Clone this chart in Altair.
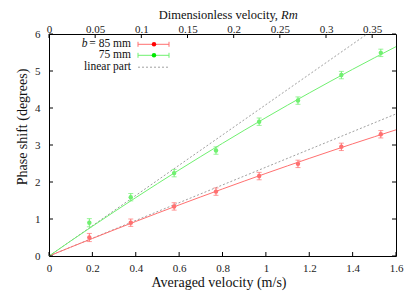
import altair as alt
import pandas as pd

# ---- data ----
velocity = [0.186, 0.377, 0.577, 0.770, 0.969, 1.148, 1.348, 1.530]
shift_85 = [0.50, 0.90, 1.34, 1.74, 2.16, 2.49, 2.95, 3.29]
err_85 = [0.11, 0.10, 0.10, 0.10, 0.10, 0.10, 0.10, 0.10]
shift_75 = [0.90, 1.59, 2.24, 2.85, 3.63, 4.20, 4.89, 5.49]
err_75 = [0.11, 0.10, 0.10, 0.10, 0.10, 0.10, 0.10, 0.10]

curve_v = [0.0, 0.1, 0.2, 0.3, 0.4, 0.5, 0.6, 0.7, 0.8, 0.9, 1.0, 1.1, 1.2, 1.3, 1.4, 1.5, 1.6]
curve_85 = [0.0, 0.238, 0.473, 0.705, 0.933, 1.158, 1.380, 1.598, 1.812, 2.024,
            2.232, 2.437, 2.638, 2.836, 3.031, 3.222, 3.410]
curve_75 = [0.0, 0.405, 0.802, 1.193, 1.578, 1.955, 2.326, 2.689, 3.046, 3.397,
            3.740, 4.077, 4.406, 4.729, 5.046, 5.355, 5.658]

lin_85_v = [0.0, 1.6]
lin_85 = [0.0, 3.84]
lin_75_v = [0.0, 1.467]
lin_75 = [0.0, 6.0]

x_ticks = [0, 0.2, 0.4, 0.6, 0.8, 1.0, 1.2, 1.4, 1.6]
y_ticks = [0, 1, 2, 3, 4, 5, 6]
rm_ticks = [0, 0.05, 0.1, 0.15, 0.2, 0.25, 0.3, 0.35]
RM_MAX = 0.3758

# ---- styling ----
W, H = 347, 222
FONT = "Liberation Serif"
LSIZE = 11
RED, RED_L = "#ff0000", "#ff7070"
GRN, GRN_L = "#00e800", "#70f070"
GRAY = "#a0a0a0"

xs = alt.Scale(domain=[0, 1.6], nice=False, zero=False)
ys = alt.Scale(domain=[0, 6], nice=False, zero=False)
xax = alt.Axis(values=x_ticks, format="~g", ticks=False, tickSize=0, domain=False, grid=False,
               labelFont=FONT, labelFontSize=LSIZE, labelColor="#222", labelPadding=6,
               labelFlush=False, labelOverlap=False, title=None)
yax = alt.Axis(values=y_ticks, format="~g", ticks=False, tickSize=0, domain=False, grid=False,
               labelFont=FONT, labelFontSize=LSIZE, labelColor="#222", labelPadding=9,
               labelFlush=False, labelOverlap=False, title=None)

pts = pd.DataFrame({
    "v": velocity * 2,
    "s": shift_85 + shift_75,
    "lo": [a - b for a, b in zip(shift_85, err_85)] + [a - b for a, b in zip(shift_75, err_75)],
    "hi": [a + b for a, b in zip(shift_85, err_85)] + [a + b for a, b in zip(shift_75, err_75)],
    "series": ["85"] * len(velocity) + ["75"] * len(velocity),
})
curves = pd.DataFrame({
    "v": curve_v * 2,
    "s": curve_85 + curve_75,
    "series": ["85"] * len(curve_v) + ["75"] * len(curve_v),
})
lins = pd.DataFrame({
    "v": lin_85_v + lin_75_v,
    "s": lin_85 + lin_75,
    "series": ["85"] * 2 + ["75"] * 2,
})

cscale_pt = alt.Scale(domain=["85", "75"], range=[RED, GRN])
cscale_ln = alt.Scale(domain=["85", "75"], range=[RED_L, GRN_L])

X = lambda f="v": alt.X(f + ":Q", scale=xs, axis=xax)
Y = lambda f="s": alt.Y(f + ":Q", scale=ys, axis=yax)

lin_layer = alt.Chart(lins).mark_line(color=GRAY, strokeWidth=1, strokeDash=[2, 2], clip=True).encode(
    x=X(), y=Y(), detail="series:N")
curve_layer = alt.Chart(curves).mark_line(strokeWidth=1, clip=True).encode(
    x=X(), y=Y(), color=alt.Color("series:N", scale=cscale_ln, legend=None))
err_layer = alt.Chart(pts).mark_rule(strokeWidth=1).encode(
    x=X(), y=Y("lo"), y2="hi:Q", color=alt.Color("series:N", scale=cscale_ln, legend=None))
cap_lo = alt.Chart(pts).mark_tick(orient="horizontal", size=5, thickness=1).encode(
    x=X(), y=Y("lo"), color=alt.Color("series:N", scale=cscale_ln, legend=None))
cap_hi = alt.Chart(pts).mark_tick(orient="horizontal", size=5, thickness=1).encode(
    x=X(), y=Y("hi"), color=alt.Color("series:N", scale=cscale_ln, legend=None))
pt_layer = alt.Chart(pts).mark_point(filled=True, shape="circle", size=20, opacity=1).encode(
    x=X(), y=Y(), color=alt.Color("series:N", scale=cscale_pt, legend=None))

# inward ticks
xt = pd.DataFrame({"v": x_ticks})
yt = pd.DataFrame({"s": y_ticks})
bottom_ticks = alt.Chart(xt).mark_rule(color="black", strokeWidth=1).encode(
    x=X(), y=alt.value(H), y2=alt.value(H - 4))
left_ticks = alt.Chart(yt).mark_rule(color="black", strokeWidth=1).encode(
    y=Y(), x=alt.value(0), x2=alt.value(4))
right_ticks = alt.Chart(yt).mark_rule(color="black", strokeWidth=1).encode(
    y=Y(), x=alt.value(W), x2=alt.value(W - 4))

# titles as text
def txt(s, x, y, size=14, align="center", baseline="alphabetic", angle=0, style="normal"):
    kw = dict(font=FONT, fontSize=size, align=align, baseline=baseline, color="#111", fontStyle=style)
    if angle:
        kw["angle"] = angle
    return alt.Chart(pd.DataFrame({"t": [s]})).mark_text(**kw).encode(
        text="t:N", x=alt.value(x), y=alt.value(y))

titles = [
    txt("Averaged velocity (m/s)", 170, 253),
    txt("Phase shift (degrees)", -26, 93, baseline="middle", angle=270),
    txt("Dimensionless velocity,", 229, -14.7, size=12.5, align="right"),
    txt("Rm", 232, -14.7, size=12.5, align="left", style="italic"),
]

# legend (gnuplot style, inside top-left)
rows_y = [10.3, 21.3, 33.2]
legend = [
    txt("b", 38.5, rows_y[0], size=11.5, align="right", baseline="middle", style="italic"),
    txt("= 85 mm", 82, rows_y[0], size=11.5, align="right", baseline="middle"),
    txt("75 mm", 82, rows_y[1], size=11.5, align="right", baseline="middle"),
    txt("linear part", 82, rows_y[2], size=11.5, align="right", baseline="middle"),
]
one = pd.DataFrame({"a": [0]})
for yy, lc, pc in [(rows_y[0], RED_L, RED), (rows_y[1], GRN_L, GRN)]:
    legend.append(alt.Chart(one).mark_rule(color=lc, strokeWidth=1).encode(
        x=alt.value(89), x2=alt.value(120), y=alt.value(yy)))
    legend.append(alt.Chart(one).mark_rule(color=lc, strokeWidth=1).encode(
        x=alt.value(89), y=alt.value(yy - 2.5), y2=alt.value(yy + 2.5)))
    legend.append(alt.Chart(one).mark_rule(color=lc, strokeWidth=1).encode(
        x=alt.value(120), y=alt.value(yy - 2.5), y2=alt.value(yy + 2.5)))
    legend.append(alt.Chart(one).mark_point(filled=True, shape="circle", size=20, color=pc, opacity=1).encode(
        x=alt.value(105), y=alt.value(yy)))
legend.append(alt.Chart(one).mark_rule(color=GRAY, strokeWidth=1, strokeDash=[2, 2]).encode(
    x=alt.value(89), x2=alt.value(120), y=alt.value(rows_y[2])))

main = alt.layer(lin_layer, curve_layer, err_layer, cap_lo, cap_hi, pt_layer,
                 bottom_ticks, left_ticks, right_ticks, *titles, *legend)

# top axis: dimensionless velocity Rm
rm_df = pd.DataFrame({"rm": rm_ticks})
top = alt.Chart(rm_df).mark_rule(color="black", strokeWidth=1).encode(
    x=alt.X("rm:Q", scale=alt.Scale(domain=[0, RM_MAX], nice=False, zero=False),
            axis=alt.Axis(orient="top", values=rm_ticks, format="~g", ticks=False, tickSize=0,
                          domain=False, grid=False, labelFont=FONT, labelFontSize=LSIZE,
                          labelColor="#222", labelPadding=2, labelBaseline="alphabetic",
                          labelFlush=False, labelOverlap=False, title=None)),
    y=alt.value(0), y2=alt.value(4))

chart = alt.layer(main, top).resolve_scale(x="independent").properties(
    width=W, height=H,
    autosize=alt.AutoSizeParams(type="none"),
    padding={"left": 41, "top": 26, "right": 11, "bottom": 35},
    background="white",
).configure_view(stroke="black", strokeWidth=1)

chart.save("out.html", embed_options={"renderer": "svg", "actions": False})
